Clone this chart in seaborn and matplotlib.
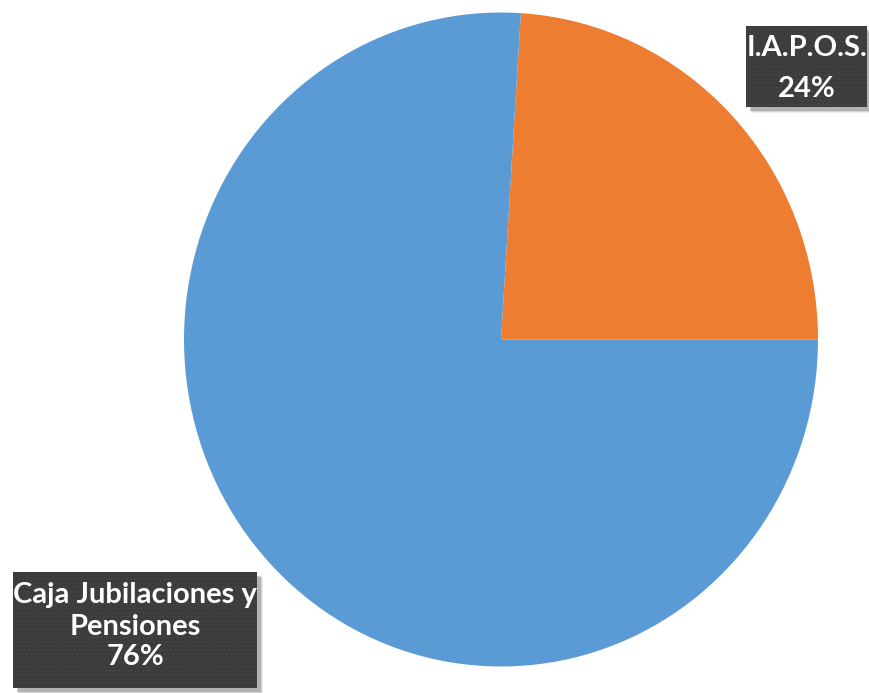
import matplotlib
matplotlib.use("Agg")
import matplotlib.pyplot as plt
import seaborn as sns
from matplotlib.patches import Rectangle

# Data
categories = ["I.A.P.O.S.", "Caja Jubilaciones y\nPensiones"]
values = [24, 76]
colors = ["#ED7D31", "#5B9BD5"]

sns.set_theme(style="white")
plt.rcParams['font.family'] = ['Lato', 'DejaVu Sans']
plt.rcParams['hatch.linewidth'] = 0.5

W, H = 869, 693
fig = plt.figure(figsize=(W / 100, H / 100), dpi=100)
fig.patch.set_facecolor("white")

# pie axes (pixel geometry: center (501, 339.5), rx 317, ry 327)
cx, cy, rx, ry = 501, 339.5, 317, 327
ax = fig.add_axes([0, 0, 1, 1])
ax.pie(values, colors=colors, startangle=0, counterclock=True,
       wedgeprops=dict(linewidth=0))
ax.set_aspect('auto')
ax.set_xlim(-cx / rx, (W - cx) / rx)
ax.set_ylim(-(H - cy) / ry, cy / ry)
ax.axis('off')

# overlay axes in pixel coordinates for labels
ov = fig.add_axes([0, 0, 1, 1])
ov.set_xlim(0, W)
ov.set_ylim(H, 0)
ov.axis('off')
ov.patch.set_alpha(0)

boxes = [
    dict(x0=746, y0=26, x1=867, y1=107, tx=807, lines_y=[47.5, 89]),
    dict(x0=13, y0=572, x1=257, y1=688, tx=135, lines_y=[595, 627, 657]),
]

for b, cat, val in zip(boxes, categories, values):
    w = b["x1"] - b["x0"]
    h = b["y1"] - b["y0"]
    # shadow
    for k, a in zip([6, 5, 4], [0.15, 0.25, 0.45]):
        ov.add_patch(Rectangle((b["x0"] + k, b["y0"] + k), w, h,
                               facecolor="#8a8a8a", edgecolor="none", alpha=a, zorder=2))
    ov.add_patch(Rectangle((b["x0"], b["y0"]), w, h, facecolor="#3c3c3c",
                           edgecolor="#4a4a4a", hatch="....", linewidth=0, zorder=3))
    lines = cat.split("\n") + [f"{val}%"]
    for line, y in zip(lines, b["lines_y"]):
        ov.text(b["tx"], y, line, color="white", fontsize=21, fontweight="bold",
                ha="center", va="center", zorder=4)

fig.savefig("out.png", dpi=100, facecolor="white")
